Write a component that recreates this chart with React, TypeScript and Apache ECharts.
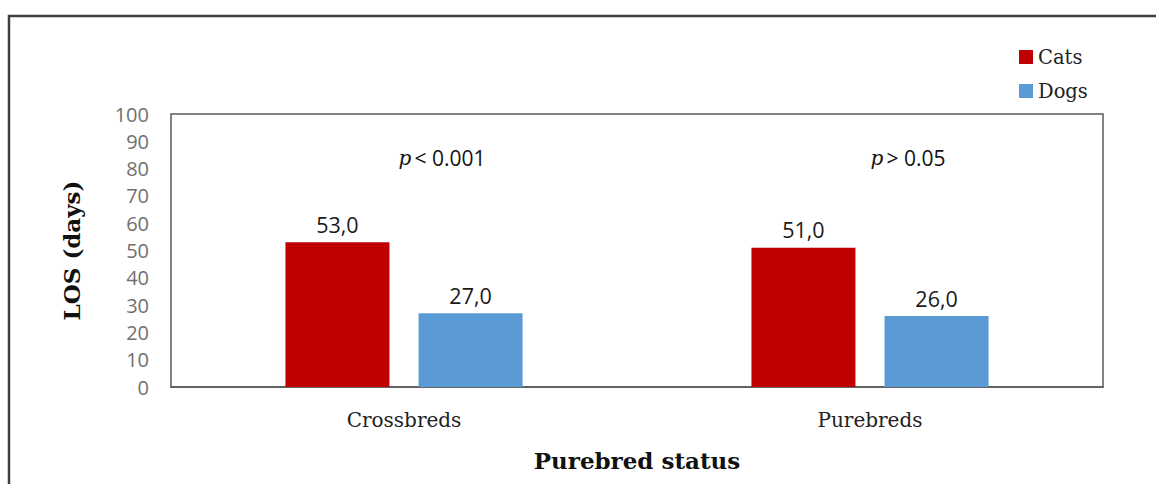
import React, { useEffect, useRef } from "react";
import * as echarts from "echarts";

const categories = ["Crossbreds", "Purebreds"];
const catsValues = [53.0, 51.0];
const dogsValues = [27.0, 26.0];
const pValues = ["< 0.001", "> 0.05"];
const pLevel = 84;
const yMin = 0;
const yMax = 100;
const yInterval = 10;

const SERIF = "'DejaVu Serif', 'Liberation Serif', serif";
const SANS = "'Open Sans', 'Noto Sans', sans-serif";

export default function App() {
  const ref = useRef<HTMLDivElement>(null);
  useEffect(() => {
    if (!ref.current) return;
    const chart = echarts.init(ref.current, null, { renderer: "svg" });
    const pSeries = {
      type: "scatter",
      symbolSize: 0,
      silent: true,
      itemStyle: { opacity: 1 },
      data: categories.map((c) => [c, pLevel]),
      label: {
        show: true,
        position: "inside",
        offset: [38, 0],
        opacity: 1,
        color: "#111",
        formatter: (p: any) => `{i|p} {n|${pValues[p.dataIndex]}}`,
        rich: {
          i: { fontFamily: SERIF, fontStyle: "italic", fontSize: 20, color: "#111" },
          n: { fontFamily: SANS, fontSize: 21, color: "#111" },
        },
      },
      tooltip: { show: false },
    };
    const valueLabel = {
      show: true,
      position: "top",
      distance: 7,
      formatter: (p: any) => p.value.toFixed(1).replace(".", ","),
      fontFamily: SANS,
      fontSize: 21.5,
      color: "#1a1a1a",
    };
    chart.setOption({
      animation: false,
      grid: {
        left: 171,
        top: 114,
        width: 932,
        height: 273,
        show: true,
        borderColor: "#595959",
        borderWidth: 1.5,
        containLabel: false,
        outerBoundsMode: "none",
      },
      legend: {
        orient: "vertical",
        left: 1014,
        top: 42,
        itemWidth: 14,
        itemHeight: 14,
        itemGap: 14,
        icon: "rect",
        data: ["Cats", "Dogs"],
        textStyle: { fontFamily: SERIF, fontSize: 19.5, color: "#222" },
      },
      xAxis: {
        type: "category",
        data: categories,
        axisLine: { show: true, lineStyle: { color: "#595959", width: 1.5 } },
        axisTick: { show: false },
        axisLabel: { fontFamily: SERIF, fontSize: 20, color: "#222", margin: 23 },
        name: "Purebred status",
        nameLocation: "middle",
        nameGap: 62,
        nameTextStyle: { fontFamily: SERIF, fontSize: 23, fontWeight: "bold", color: "#111" },
      },
      yAxis: {
        type: "value",
        min: yMin,
        max: yMax,
        interval: yInterval,
        splitLine: { show: false },
        axisLine: { show: false },
        axisTick: { show: false },
        axisLabel: { fontFamily: SANS, fontSize: 20, color: "#707070", margin: 22 },
        name: "LOS (days)",
        nameLocation: "middle",
        nameGap: 88,
        nameTextStyle: { fontFamily: SERIF, fontSize: 23, fontWeight: "bold", color: "#111" },
      },
      series: [
        {
          name: "Cats",
          type: "bar",
          data: catsValues,
          barWidth: 104,
          barGap: "28%",
          itemStyle: { color: "#C00000" },
          label: valueLabel,
        },
        {
          name: "Dogs",
          type: "bar",
          data: dogsValues,
          barWidth: 104,
          barGap: "28%",
          itemStyle: { color: "#5B9BD5" },
          label: valueLabel,
        },
        pSeries,
      ],
      graphic: [
        {
          type: "polyline",
          shape: { points: [[9, 500], [9, 16], [1156, 16]] },
          style: { stroke: "#404040", lineWidth: 2.5, fill: "none" },
          silent: true,
        },
      ],
    });
    return () => chart.dispose();
  }, []);
  return (
    <div
      ref={ref}
      style={{ position: "fixed", left: 0, top: 0, width: 1156, height: 484, background: "#fff" }}
    />
  );
}
